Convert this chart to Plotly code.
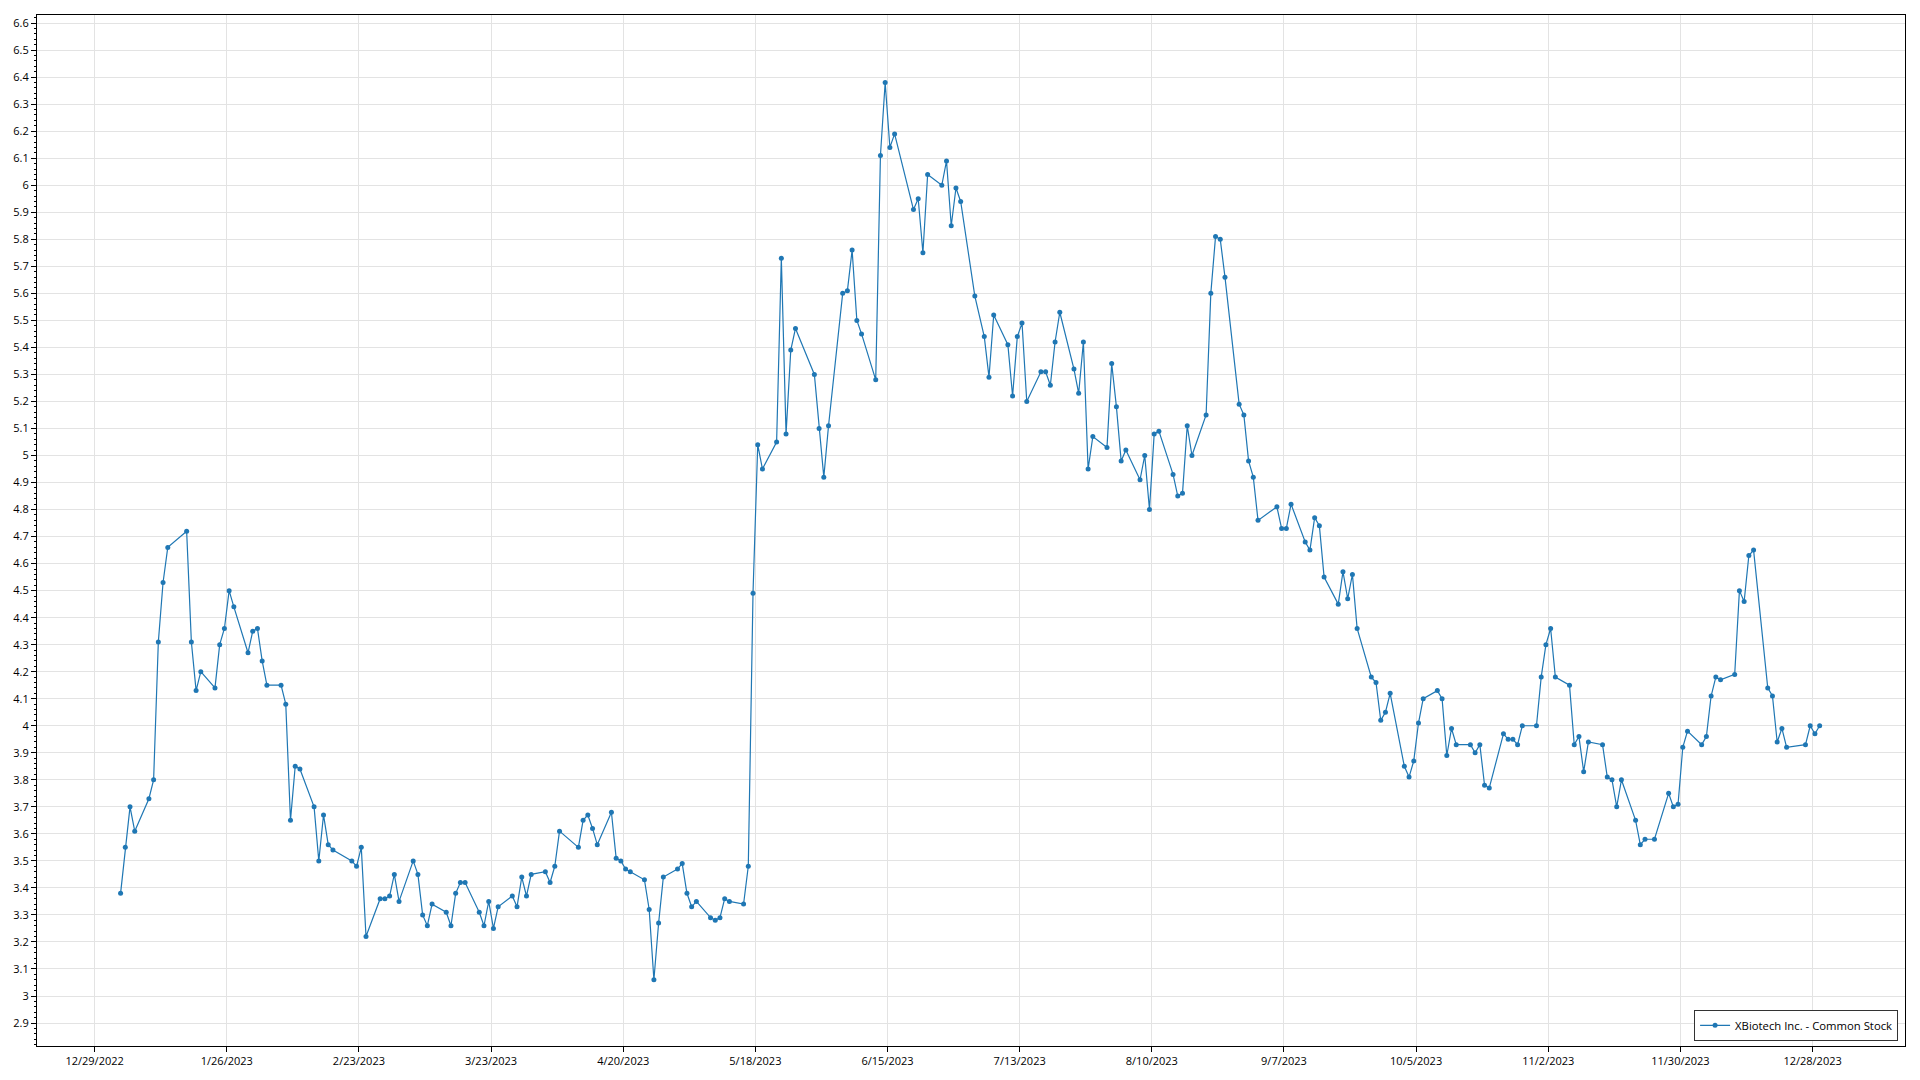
from datetime import datetime, timedelta
import plotly.graph_objects as go

series_name = "XBiotech Inc. - Common Stock"

dates_jan = ["2023-01-03", "2023-01-04", "2023-01-05", "2023-01-06", "2023-01-09", "2023-01-10", "2023-01-11",
             "2023-01-12", "2023-01-13", "2023-01-17", "2023-01-18", "2023-01-19", "2023-01-20", "2023-01-23",
             "2023-01-24", "2023-01-25", "2023-01-26", "2023-01-27", "2023-01-30", "2023-01-31"]
vals_jan = [3.38, 3.55, 3.70, 3.61, 3.73, 3.80, 4.31, 4.53, 4.66, 4.72, 4.31, 4.13, 4.20, 4.14, 4.30, 4.36,
            4.50, 4.44, 4.27, 4.35]

dates_feb = ["2023-02-01", "2023-02-02", "2023-02-03", "2023-02-06", "2023-02-07", "2023-02-08", "2023-02-09",
             "2023-02-10", "2023-02-13", "2023-02-14", "2023-02-15", "2023-02-16", "2023-02-17", "2023-02-21",
             "2023-02-22", "2023-02-23", "2023-02-24", "2023-02-27", "2023-02-28"]
vals_feb = [4.36, 4.24, 4.15, 4.15, 4.08, 3.65, 3.85, 3.84, 3.70, 3.50, 3.67, 3.56, 3.54, 3.50, 3.48, 3.55,
            3.22, 3.36, 3.36]

dates_mar = ["2023-03-01", "2023-03-02", "2023-03-03", "2023-03-06", "2023-03-07", "2023-03-08", "2023-03-09",
             "2023-03-10", "2023-03-13", "2023-03-14", "2023-03-15", "2023-03-16", "2023-03-17", "2023-03-20",
             "2023-03-21", "2023-03-22", "2023-03-23", "2023-03-24", "2023-03-27", "2023-03-28", "2023-03-29",
             "2023-03-30", "2023-03-31"]
vals_mar = [3.37, 3.45, 3.35, 3.50, 3.45, 3.30, 3.26, 3.34, 3.31, 3.26, 3.38, 3.42, 3.42, 3.31, 3.26, 3.35,
            3.25, 3.33, 3.37, 3.33, 3.44, 3.37, 3.45]

dates_apr = ["2023-04-03", "2023-04-04", "2023-04-05", "2023-04-06", "2023-04-10", "2023-04-11", "2023-04-12",
             "2023-04-13", "2023-04-14", "2023-04-17", "2023-04-18", "2023-04-19", "2023-04-20", "2023-04-21",
             "2023-04-24", "2023-04-25", "2023-04-26", "2023-04-27", "2023-04-28"]
vals_apr = [3.46, 3.42, 3.48, 3.61, 3.55, 3.65, 3.67, 3.62, 3.56, 3.68, 3.51, 3.50, 3.47, 3.46, 3.43, 3.32,
            3.06, 3.27, 3.44]

dates_may = ["2023-05-01", "2023-05-02", "2023-05-03", "2023-05-04", "2023-05-05", "2023-05-08", "2023-05-09",
             "2023-05-10", "2023-05-11", "2023-05-12", "2023-05-15", "2023-05-16", "2023-05-17", "2023-05-18",
             "2023-05-19", "2023-05-22", "2023-05-23", "2023-05-24", "2023-05-25", "2023-05-26", "2023-05-30",
             "2023-05-31"]
vals_may = [3.47, 3.49, 3.38, 3.33, 3.35, 3.29, 3.28, 3.29, 3.36, 3.35, 3.34, 3.48, 4.49, 5.04, 4.95, 5.05,
            5.73, 5.08, 5.39, 5.47, 5.30, 5.10]

dates_jun = ["2023-06-01", "2023-06-02", "2023-06-05", "2023-06-06", "2023-06-07", "2023-06-08", "2023-06-09",
             "2023-06-12", "2023-06-13", "2023-06-14", "2023-06-15", "2023-06-16", "2023-06-20", "2023-06-21",
             "2023-06-22", "2023-06-23", "2023-06-26", "2023-06-27", "2023-06-28", "2023-06-29", "2023-06-30"]
vals_jun = [4.92, 5.11, 5.60, 5.61, 5.76, 5.50, 5.45, 5.28, 6.11, 6.38, 6.14, 6.19, 5.91, 5.95, 5.75, 6.04,
            6.00, 6.09, 5.85, 5.99, 5.94]

dates_jul = ["2023-07-03", "2023-07-05", "2023-07-06", "2023-07-07", "2023-07-10", "2023-07-11", "2023-07-12",
             "2023-07-13", "2023-07-14", "2023-07-17", "2023-07-18", "2023-07-19", "2023-07-20", "2023-07-21",
             "2023-07-24", "2023-07-25", "2023-07-26", "2023-07-27", "2023-07-28", "2023-07-31"]
vals_jul = [5.59, 5.44, 5.29, 5.52, 5.41, 5.22, 5.44, 5.49, 5.20, 5.31, 5.31, 5.26, 5.42, 5.53, 5.32, 5.23,
            5.42, 4.95, 5.07, 5.03]

dates_aug = ["2023-08-01", "2023-08-02", "2023-08-03", "2023-08-04", "2023-08-07", "2023-08-08", "2023-08-09",
             "2023-08-10", "2023-08-11", "2023-08-14", "2023-08-15", "2023-08-16", "2023-08-17", "2023-08-18",
             "2023-08-21", "2023-08-22", "2023-08-23", "2023-08-24", "2023-08-25", "2023-08-28", "2023-08-29",
             "2023-08-30", "2023-08-31"]
vals_aug = [5.34, 5.18, 4.98, 5.02, 4.91, 5.00, 4.80, 5.08, 5.09, 4.93, 4.85, 4.86, 5.11, 5.00, 5.15, 5.60,
            5.81, 5.80, 5.66, 5.19, 5.15, 4.98, 4.92]

dates_sep = ["2023-09-01", "2023-09-05", "2023-09-06", "2023-09-07", "2023-09-08", "2023-09-11", "2023-09-12",
             "2023-09-13", "2023-09-14", "2023-09-15", "2023-09-18", "2023-09-19", "2023-09-20", "2023-09-21",
             "2023-09-22", "2023-09-25", "2023-09-26", "2023-09-27", "2023-09-28", "2023-09-29"]
vals_sep = [4.76, 4.81, 4.73, 4.73, 4.82, 4.68, 4.65, 4.77, 4.74, 4.55, 4.45, 4.57, 4.47, 4.56, 4.36, 4.18,
            4.16, 4.02, 4.05, 4.12]

dates_oct = ["2023-10-02", "2023-10-03", "2023-10-04", "2023-10-05", "2023-10-06", "2023-10-09", "2023-10-10",
             "2023-10-11", "2023-10-12", "2023-10-13", "2023-10-16", "2023-10-17", "2023-10-18", "2023-10-19",
             "2023-10-20", "2023-10-23", "2023-10-24", "2023-10-25", "2023-10-26", "2023-10-27", "2023-10-30",
             "2023-10-31"]
vals_oct = [3.85, 3.81, 3.87, 4.01, 4.10, 4.13, 4.10, 3.89, 3.99, 3.93, 3.93, 3.90, 3.93, 3.78, 3.77, 3.97,
            3.95, 3.95, 3.93, 4.00, 4.00, 4.18]

dates_nov = ["2023-11-01", "2023-11-02", "2023-11-03", "2023-11-06", "2023-11-07", "2023-11-08", "2023-11-09",
             "2023-11-10", "2023-11-13", "2023-11-14", "2023-11-15", "2023-11-16", "2023-11-17", "2023-11-20",
             "2023-11-21", "2023-11-22", "2023-11-24", "2023-11-27", "2023-11-28", "2023-11-29", "2023-11-30"]
vals_nov = [4.30, 4.36, 4.18, 4.15, 3.93, 3.96, 3.83, 3.94, 3.93, 3.81, 3.80, 3.70, 3.80, 3.65, 3.56, 3.58,
            3.58, 3.75, 3.70, 3.71, 3.92]

dates_dec = ["2023-12-01", "2023-12-04", "2023-12-05", "2023-12-06", "2023-12-07", "2023-12-08", "2023-12-11",
             "2023-12-12", "2023-12-13", "2023-12-14", "2023-12-15", "2023-12-18", "2023-12-19", "2023-12-20",
             "2023-12-21", "2023-12-22", "2023-12-26", "2023-12-27", "2023-12-28", "2023-12-29"]
vals_dec = [3.98, 3.93, 3.96, 4.11, 4.18, 4.17, 4.19, 4.50, 4.46, 4.63, 4.65, 4.14, 4.11, 3.94, 3.99, 3.92,
            3.93, 4.00, 3.97, 4.00]

x_tick_labels = ["12/29/2022", "1/26/2023", "2/23/2023", "3/23/2023", "4/20/2023", "5/18/2023", "6/15/2023",
                 "7/13/2023", "8/10/2023", "9/7/2023", "10/5/2023", "11/2/2023", "11/30/2023", "12/28/2023"]
y_tick_values = [round(2.9 + 0.1 * i, 1) for i in range(38)]
y_tick_labels = [f"{v:g}" for v in y_tick_values]

dates = (dates_jan + dates_feb + dates_mar + dates_apr + dates_may + dates_jun + dates_jul + dates_aug
         + dates_sep + dates_oct + dates_nov + dates_dec)
values = (vals_jan + vals_feb + vals_mar + vals_apr + vals_may + vals_jun + vals_jul + vals_aug
          + vals_sep + vals_oct + vals_nov + vals_dec)

# gridlines of the reference sit half a day before each day's point
x_tick_positions = [(datetime.strptime(t, "%m/%d/%Y") - timedelta(hours=12)).strftime("%Y-%m-%d %H:%M")
                    for t in x_tick_labels]

FONT = "Open Sans, Noto Sans, DejaVu Sans, sans-serif"
BLUE = "#1f77b4"
GRID = "#e3e3e3"

fig = go.Figure()
fig.add_trace(go.Scatter(
    x=dates, y=values, mode="lines+markers", name=series_name,
    line=dict(color=BLUE, width=1.2),
    marker=dict(color=BLUE, size=5),
))

fig.update_layout(
    width=1920, height=1080,
    margin=dict(l=37, r=15, t=15, b=31),
    paper_bgcolor="white", plot_bgcolor="white",
    font=dict(family=FONT, size=11, color="#000000"),
    showlegend=True,
    legend=dict(
        x=0.9963, y=0.005, xanchor="right", yanchor="bottom",
        bgcolor="white", bordercolor="#333333", borderwidth=1,
        font=dict(family=FONT, size=11.3, color="#000000"),
        itemwidth=30,
    ),
    xaxis=dict(
        type="date",
        range=["2022-12-16 07:00", "2024-01-16 02:00"],
        tickmode="array", tickvals=x_tick_positions, ticktext=x_tick_labels,
        showgrid=True, gridcolor=GRID, gridwidth=1,
        showline=True, linecolor="#000000", linewidth=1, mirror=True,
        ticks="outside", ticklen=5, tickcolor="#000000",
        zeroline=False,
        tickfont=dict(family=FONT, size=11, color="#000000"),
    ),
    yaxis=dict(
        range=[2.815, 6.63],
        tickmode="array", tickvals=y_tick_values, ticktext=y_tick_labels,
        showgrid=True, gridcolor=GRID, gridwidth=1,
        showline=True, linecolor="#000000", linewidth=1, mirror=True,
        ticks="outside", ticklen=5, tickcolor="#000000",
        minor=dict(ticks="outside", ticklen=2, dtick=0.02, tick0=2.9, tickcolor="#000000", showgrid=False),
        zeroline=False,
        tickfont=dict(family=FONT, size=11, color="#000000"),
    ),
)

fig.write_html("out.html", config={"displayModeBar": False},
               post_script="document.body.style.margin='0';")
